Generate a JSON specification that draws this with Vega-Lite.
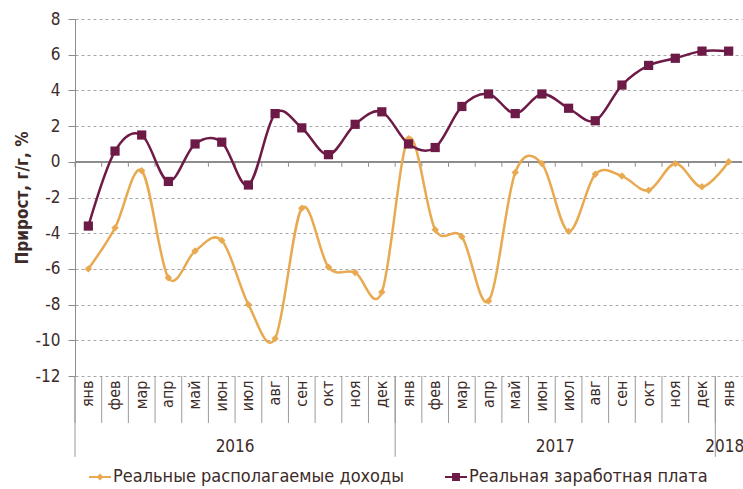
{
  "$schema": "https://vega.github.io/schema/vega-lite/v6.json",
  "width": 667,
  "height": 357,
  "autosize": {"type": "none"},
  "padding": {"left": 75, "top": 19, "right": 1, "bottom": 113},
  "config": {
    "font": "DejaVu Sans Condensed",
    "view": {"stroke": null},
    "axis": {"labelColor": "#3d2b28", "titleColor": "#3d2b28"},
    "legend": {"labelColor": "#3d2b28", "labelFontSize": 18, "labelFont": "DejaVu Sans Condensed", "labelLimit": 400}
  },
  "datasets": {
    "series": [
      {"key": "янв 2016", "series": "Реальные располагаемые доходы", "value": -6.0},
      {"key": "фев 2016", "series": "Реальные располагаемые доходы", "value": -3.7},
      {"key": "мар 2016", "series": "Реальные располагаемые доходы", "value": -0.5},
      {"key": "апр 2016", "series": "Реальные располагаемые доходы", "value": -6.5},
      {"key": "май 2016", "series": "Реальные располагаемые доходы", "value": -5.0},
      {"key": "июн 2016", "series": "Реальные располагаемые доходы", "value": -4.4},
      {"key": "июл 2016", "series": "Реальные располагаемые доходы", "value": -8.0},
      {"key": "авг 2016", "series": "Реальные располагаемые доходы", "value": -9.9},
      {"key": "сен 2016", "series": "Реальные располагаемые доходы", "value": -2.6},
      {"key": "окт 2016", "series": "Реальные располагаемые доходы", "value": -5.9},
      {"key": "ноя 2016", "series": "Реальные располагаемые доходы", "value": -6.2},
      {"key": "дек 2016", "series": "Реальные располагаемые доходы", "value": -7.3},
      {"key": "янв 2017", "series": "Реальные располагаемые доходы", "value": 1.3},
      {"key": "фев 2017", "series": "Реальные располагаемые доходы", "value": -3.8},
      {"key": "мар 2017", "series": "Реальные располагаемые доходы", "value": -4.2},
      {"key": "апр 2017", "series": "Реальные располагаемые доходы", "value": -7.8},
      {"key": "май 2017", "series": "Реальные располагаемые доходы", "value": -0.6},
      {"key": "июн 2017", "series": "Реальные располагаемые доходы", "value": -0.1},
      {"key": "июл 2017", "series": "Реальные располагаемые доходы", "value": -3.9},
      {"key": "авг 2017", "series": "Реальные располагаемые доходы", "value": -0.7},
      {"key": "сен 2017", "series": "Реальные располагаемые доходы", "value": -0.8},
      {"key": "окт 2017", "series": "Реальные располагаемые доходы", "value": -1.6},
      {"key": "ноя 2017", "series": "Реальные располагаемые доходы", "value": -0.1},
      {"key": "дек 2017", "series": "Реальные располагаемые доходы", "value": -1.4},
      {"key": "янв 2018", "series": "Реальные располагаемые доходы", "value": 0.0},
      {"key": "янв 2016", "series": "Реальная заработная плата", "value": -3.6},
      {"key": "фев 2016", "series": "Реальная заработная плата", "value": 0.6},
      {"key": "мар 2016", "series": "Реальная заработная плата", "value": 1.5},
      {"key": "апр 2016", "series": "Реальная заработная плата", "value": -1.1},
      {"key": "май 2016", "series": "Реальная заработная плата", "value": 1.0},
      {"key": "июн 2016", "series": "Реальная заработная плата", "value": 1.1},
      {"key": "июл 2016", "series": "Реальная заработная плата", "value": -1.3},
      {"key": "авг 2016", "series": "Реальная заработная плата", "value": 2.7},
      {"key": "сен 2016", "series": "Реальная заработная плата", "value": 1.9},
      {"key": "окт 2016", "series": "Реальная заработная плата", "value": 0.4},
      {"key": "ноя 2016", "series": "Реальная заработная плата", "value": 2.1},
      {"key": "дек 2016", "series": "Реальная заработная плата", "value": 2.8},
      {"key": "янв 2017", "series": "Реальная заработная плата", "value": 1.0},
      {"key": "фев 2017", "series": "Реальная заработная плата", "value": 0.8},
      {"key": "мар 2017", "series": "Реальная заработная плата", "value": 3.1},
      {"key": "апр 2017", "series": "Реальная заработная плата", "value": 3.8},
      {"key": "май 2017", "series": "Реальная заработная плата", "value": 2.7},
      {"key": "июн 2017", "series": "Реальная заработная плата", "value": 3.8},
      {"key": "июл 2017", "series": "Реальная заработная плата", "value": 3.0},
      {"key": "авг 2017", "series": "Реальная заработная плата", "value": 2.3},
      {"key": "сен 2017", "series": "Реальная заработная плата", "value": 4.3},
      {"key": "окт 2017", "series": "Реальная заработная плата", "value": 5.4},
      {"key": "ноя 2017", "series": "Реальная заработная плата", "value": 5.8},
      {"key": "дек 2017", "series": "Реальная заработная плата", "value": 6.2},
      {"key": "янв 2018", "series": "Реальная заработная плата", "value": 6.2}
    ],
    "years": [
      {"year": "2016", "first": "янв 2016", "middle": "июл 2016"},
      {"year": "2017", "first": "янв 2017", "middle": "июл 2017"},
      {"year": "2018", "first": "янв 2018", "middle": "янв 2018"}
    ]
  },
  "encoding": {
    "y": {"type": "quantitative",
          "scale": {"domain": [-12, 8], "nice": false, "zero": false},
          "axis": {"values": [-12,-10,-8,-6,-4,-2,0,2,4,6,8], "tickCount": 30, "labelExpr": "datum.value + ''", "grid": true,
                   "gridDash": [3, 3], "gridColor": "#a6a6a6", "gridWidth": 1,
                   "domainColor": "#8c8c8c", "tickColor": "#8c8c8c", "tickSize": 7,
                   "labelFontSize": 17, "labelPadding": 8, "labelOverlap": false,
                   "title": "Прирост, г/г, %", "titleFontSize": 17, "titleFontWeight": "bold",
                   "titlePadding": 4}}
  },
  "layer": [
    {
      "data": {"name": "series"},
      "transform": [{"filter": "datum.series == 'Реальная заработная плата'"}],
      "mark": {"type": "rule", "color": "#9a9a9a", "strokeWidth": 1},
      "encoding": {
        "x": {"field": "key", "type": "ordinal", "bandPosition": 0,
              "scale": {"type": "band", "paddingInner": 0, "paddingOuter": 0,
                        "domain": ["янв 2016","фев 2016","мар 2016","апр 2016","май 2016","июн 2016","июл 2016","авг 2016","сен 2016","окт 2016","ноя 2016","дек 2016","янв 2017","фев 2017","мар 2017","апр 2017","май 2017","июн 2017","июл 2017","авг 2017","сен 2017","окт 2017","ноя 2017","дек 2017","янв 2018"]},
              "axis": {"title": null, "domain": false, "ticks": false, "grid": false,
                       "labelAngle": -90, "labelExpr": "split(datum.label, ' ')[0]",
                       "labelFontSize": 16, "labelPadding": 4, "bandPosition": 0.5, "labelOverlap": false}},
        "y": {"datum": -12},
        "y2": {"datum": -14.63}
      }
    },
    {
      "data": {"name": "series"},
      "transform": [{"filter": "datum.series == 'Реальная заработная плата'"}],
      "mark": {"type": "rule", "color": "#8c8c8c", "strokeWidth": 1},
      "encoding": {
        "x": {"field": "key", "type": "ordinal", "bandPosition": 0},
        "y": {"datum": 0},
        "y2": {"datum": -0.28}
      }
    },
    {
      "data": {"name": "years"},
      "mark": {"type": "rule", "color": "#9a9a9a", "strokeWidth": 1},
      "encoding": {
        "x": {"field": "first", "type": "ordinal", "bandPosition": 0},
        "y": {"datum": -12},
        "y2": {"datum": -16.53}
      }
    },
    {
      "data": {"name": "years"},
      "transform": [{"filter": "datum.year != '2018'"}],
      "mark": {"type": "text", "fontSize": 17, "color": "#3d2b28", "baseline": "middle", "align": "center"},
      "encoding": {
        "x": {"field": "middle", "type": "ordinal", "bandPosition": 0},
        "y": {"datum": -15.98},
        "text": {"field": "year"}
      }
    },
    {
      "data": {"name": "years"},
      "transform": [{"filter": "datum.year == '2018'"}],
      "mark": {"type": "text", "fontSize": 17, "color": "#3d2b28", "baseline": "middle", "align": "center", "dx": -4},
      "encoding": {
        "x": {"field": "middle", "type": "ordinal", "bandPosition": 0.5},
        "y": {"datum": -15.98},
        "text": {"field": "year"}
      }
    },
    {
      "data": {"name": "series"},
      "mark": {"type": "rule", "color": "#8c8c8c", "strokeWidth": 1},
      "encoding": {"y": {"datum": 0}}
    },
    {
      "data": {"name": "series"},
      "mark": {"type": "line", "interpolate": "cardinal", "strokeWidth": 2.5},
      "encoding": {
        "x": {"field": "key", "type": "ordinal", "bandPosition": 0.5},
        "y": {"field": "value"},
        "color": {"field": "series", "type": "nominal",
                  "scale": {"domain": ["Реальные располагаемые доходы", "Реальная заработная плата"],
                            "range": ["#e8a951", "#6e1a47"]},
                  "legend": {"title": null, "orient": "none", "direction": "horizontal",
                             "legendX": 14, "legendY": 447, "symbolSize": 484,
                             "symbolStrokeWidth": 0, "columnPadding": 40, "labelOffset": 2,
                             "encode": {"symbols": {"update": {
                               "shape": {"signal": "datum.value == 'Реальные располагаемые доходы' ? 'M-1,-0.1H1V0.1H-1Z M0,-0.32L0.32,0L0,0.32L-0.32,0Z' : 'M-1,-0.1H1V0.1H-1Z M-0.36,-0.36H0.36V0.36H-0.36Z'"},
                               "fill": {"signal": "datum.value == 'Реальные располагаемые доходы' ? '#e8a951' : '#6e1a47'"},
                               "stroke": {"value": "transparent"},
                               "opacity": {"value": 1}}}}}}
      }
    },
    {
      "data": {"name": "series"},
      "transform": [{"filter": "datum.series == 'Реальные располагаемые доходы'"}],
      "mark": {"type": "point", "shape": "diamond", "filled": true, "size": 55, "opacity": 1},
      "encoding": {
        "x": {"field": "key", "type": "ordinal", "bandPosition": 0.5},
        "y": {"field": "value"},
        "color": {"field": "series", "type": "nominal"}
      }
    },
    {
      "data": {"name": "series"},
      "transform": [{"filter": "datum.series == 'Реальная заработная плата'"}],
      "mark": {"type": "point", "shape": "square", "filled": true, "size": 85, "opacity": 1},
      "encoding": {
        "x": {"field": "key", "type": "ordinal", "bandPosition": 0.5},
        "y": {"field": "value"},
        "color": {"field": "series", "type": "nominal"}
      }
    }
  ]
}
